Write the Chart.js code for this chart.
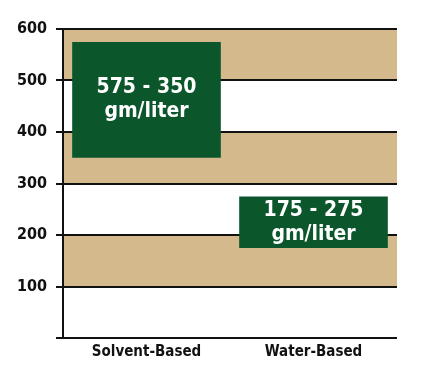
<!DOCTYPE html>
<html>
<head>
<meta charset="utf-8">
<script src="https://cdn.jsdelivr.net/npm/chart.js@4/dist/chart.umd.min.js"></script>
<style>
  html, body { margin: 0; padding: 0; background: #ffffff; }
  #wrap { width: 425px; height: 380px; }
</style>
</head>
<body>
<div id="wrap"><canvas id="voc"></canvas></div>
<script>
// VOC content ranges by coating type
const categories = ['Solvent-Based', 'Water-Based'];
const rangeLow = [350, 175];
const rangeHigh = [575, 275];
const rangeText = ['575 - 350', '175 - 275'];
const unitText = 'gm/liter';
const yTicks = [0, 100, 200, 300, 400, 500, 600];
const bandRanges = [[100, 200], [300, 400], [500, 600]];

const FONT = '"Liberation Sans Narrow", "DejaVu Sans Condensed", "Liberation Sans", sans-serif';
const TAN = '#d3b98b';
const GREEN = '#0c562c';

// alternating tan bands behind the grid
const bandPlugin = {
  id: 'bands',
  beforeDraw(chart) {
    const { ctx, chartArea } = chart;
    const y = chart.scales.y;
    ctx.save();
    ctx.fillStyle = TAN;
    bandRanges.forEach(([lo, hi]) => {
      const top = y.getPixelForValue(hi);
      const bottom = y.getPixelForValue(lo);
      ctx.fillRect(chartArea.left, top, chartArea.right - chartArea.left, bottom - top);
    });
    ctx.restore();
  }
};

// range text centred inside each box
const boxTextPlugin = {
  id: 'boxText',
  afterDatasetsDraw(chart) {
    const { ctx } = chart;
    const meta = chart.getDatasetMeta(0);
    ctx.save();
    ctx.fillStyle = '#ffffff';
    ctx.font = 'bold 21px ' + FONT;
    ctx.textAlign = 'center';
    ctx.textBaseline = 'middle';
    meta.data.forEach((bar, i) => {
      const cy = (bar.y + bar.base) / 2;
      ctx.fillText(rangeText[i], bar.x, cy - 12);
      ctx.fillText(unitText, bar.x, cy + 12);
    });
    ctx.restore();
  }
};

new Chart(document.getElementById('voc'), {
  type: 'bar',
  data: {
    labels: categories,
    datasets: [{
      data: categories.map((c, i) => [rangeLow[i], rangeHigh[i]]),
      backgroundColor: GREEN,
      borderWidth: 0,
      borderSkipped: false,
      barPercentage: 0.89,
      categoryPercentage: 1.0
    }]
  },
  options: {
    responsive: true,
    maintainAspectRatio: false,
    animation: false,
    layout: { padding: { top: 29, right: 28, left: 0, bottom: 0 } },
    plugins: {
      legend: { display: false },
      tooltip: { enabled: false }
    },
    scales: {
      x: {
        grid: { display: false },
        border: { display: false },
        ticks: {
          color: '#111111',
          font: { family: FONT, size: 15, weight: 'bold' },
          padding: -3
        },
        afterFit(scale) { scale.height = 42; }
      },
      y: {
        min: 0,
        max: 600,
        afterBuildTicks(scale) { scale.ticks = yTicks.map(v => ({ value: v })); },
        grid: { color: '#111111', lineWidth: 2, tickLength: 7 },
        border: { display: true, color: '#111111', width: 2 },
        ticks: {
          color: '#111111',
          font: { family: FONT, size: 16, weight: 'bold' },
          padding: 9,
          callback: v => (v === 0 ? '' : String(v))
        },
        afterFit(scale) { scale.width = 63; }
      }
    }
  },
  plugins: [bandPlugin, boxTextPlugin]
});
</script>
</body>
</html>
